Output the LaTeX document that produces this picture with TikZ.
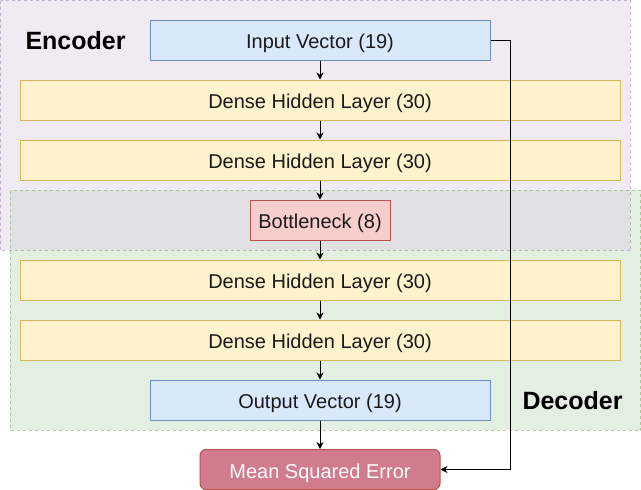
\documentclass[tikz,border=0pt]{standalone}
\usepackage{fontspec}
\setmainfont{Liberation Sans}
\usetikzlibrary{arrows.meta}
\definecolor{vec-fill}{HTML}{DAE8FC}
\definecolor{vec-line}{HTML}{6C8EBF}
\definecolor{layer-fill}{HTML}{FFF2CC}
\definecolor{layer-line}{HTML}{D6B656}
\definecolor{neck-fill}{HTML}{F8CECC}
\definecolor{neck-line}{HTML}{B85450}
\definecolor{loss-fill}{HTML}{D07C8D}
\definecolor{enc-fill}{HTML}{E1D5E7}
\definecolor{enc-line}{HTML}{9673A6}
\definecolor{dec-fill}{HTML}{D5E8D4}
\definecolor{dec-line}{HTML}{82B366}
\definecolor{body-text}{HTML}{1A1A1A}

\begin{document}
\begin{tikzpicture}[x=1pt, y=-1pt, line width=1pt,
      >={Stealth[length=7pt, width=7pt]},
      every node/.style={font=\fontsize{20}{24}\selectfont, text=body-text},
      box/.style={minimum height=40pt, inner sep=0pt,
        text height=21pt, text depth=4pt},
      layer/.style={box, draw=layer-line, fill=layer-fill, minimum width=600pt},
      vector/.style={box, draw=vec-line, fill=vec-fill, minimum width=340pt},
      group label/.style={anchor=west, inner sep=0pt,
        font=\fontsize{25}{30}\selectfont\bfseries, text=black}]
    \useasboundingbox (0,0) rectangle (641,490);
    % encoder and decoder groups
    \path[fill=dec-fill, fill opacity=0.7] (10,190) rectangle (641,430);
    \path[fill=enc-fill, fill opacity=0.5] (0,0) rectangle (630,250);
    \draw[dec-line, draw opacity=0.6, dash pattern=on 3pt off 3pt]
          (10.5,190.5) rectangle (640.5,430.5);
    \draw[enc-line, draw opacity=0.5, dash pattern=on 3pt off 3pt]
          (0.5,0.5) rectangle (630.5,250.5);
    \node[group label] (ENC) at (25,40.5) {Encoder};
    \node[group label] (DEC) at (522,400.5) {Decoder};

    \node[vector] (IN) at (320,40) {Input Vector (19)};
    \node[layer] (H1) at (320,100) {Dense Hidden Layer (30)};
    \node[layer] (H2) at (320,160) {Dense Hidden Layer (30)};
    \node[box, draw=neck-line, fill=neck-fill, minimum width=140pt]
          (BN) at (320,220) {Bottleneck (8)};
    \node[layer] (H3) at (320,280) {Dense Hidden Layer (30)};
    \node[layer] (H4) at (320,340) {Dense Hidden Layer (30)};
    \node[vector] (OUT) at (320,400) {Output Vector (19)};
    \node[box, draw=neck-line, fill=loss-fill, rounded corners=6pt,
          minimum width=240pt, text=white]
          (MSE) at (320,469.5) {Mean Squared Error};

    \draw[->] (IN) -- (H1);
    \draw[->] (H1) -- (H2);
    \draw[->] (H2) -- (BN);
    \draw[->] (BN) -- (H3);
    \draw[->] (H3) -- (H4);
    \draw[->] (H4) -- (OUT);
    \draw[->] (OUT) -- (MSE);
    \draw[->] (IN.east) -- ++(20,0) |- (MSE.east);
  \end{tikzpicture}
\end{document}
